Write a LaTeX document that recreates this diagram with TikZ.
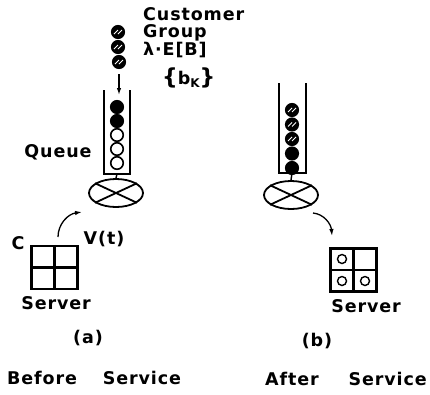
\documentclass[tikz,border=0pt]{standalone}
\usepackage{fontspec}
\setmainfont{DejaVu Sans}[LetterSpace=5]
\usetikzlibrary{shapes.geometric,arrows.meta}

\tikzset{
	lbl/.style={font=\fontsize{17.5}{19}\selectfont\bfseries, inner sep=0pt},
	tube/.style={line width=1.6pt},
	ball/.style={circle, draw, line width=1.6pt, minimum size=12.5pt, inner sep=0pt},
	full/.style={ball, fill=black},
	hatch/.style={full, path picture={
		\draw[white, line width=0.9pt]
		([shift={(-4,2)}]path picture bounding box.center) -- ([shift={(0,-2)}]path picture bounding box.center)
		([shift={(0,2)}]path picture bounding box.center) -- ([shift={(4,-2)}]path picture bounding box.center);}},
	dot/.style={circle, draw, line width=1.4pt, minimum size=9pt, inner sep=0pt},
	box/.style={draw, line width=2.2pt, minimum width=46pt, minimum height=43pt, inner sep=0pt},
	mix/.style={ellipse, draw, line width=1.8pt, minimum width=54pt, minimum height=28pt, inner sep=0pt},
	flow/.style={line width=1.3pt, -{Latex[length=7pt,width=4.5pt]}}
}

\begin{document}
\begin{tikzpicture}[x=1pt,y=-1pt]
	\useasboundingbox (0,0) rectangle (430,394);
	% (a) before service
	\node[hatch] (cA1) at (118,32) {};
	\node[hatch] (cA2) at (118,47) {};
	\node[hatch] (cA3) at (119,62) {};
	\coordinate (inA) at (119,95);
	\draw[flow, shorten <=5pt] (cA3.south) -- (inA);
	\draw[tube] (104,90) -- (104,174) -- (130,174) -- (130,90);
	\node[full] (qA1) at (117,107) {};
	\node[full] (qA2) at (117,121) {};
	\foreach \y [count=\i from 3] in {135,149,163}
		\node[ball] (qA\i) at (117,\y) {};
	\node[mix] (mixA) at (116,193) {};
	\draw[line width=1.4pt] (117,174) -- (mixA.north);
	\draw[line width=1.8pt] (mixA.25) -- (mixA.205) (mixA.155) -- (mixA.335);
	\node[box] (servA) at (54.5,267.5) {};
	\draw[line width=2.2pt] (servA.north) -- (servA.south) (servA.west) -- (servA.east);
	\coordinate (vA1) at (58,237);
	\coordinate (vA2) at (82,212);
	\draw[flow] (vA1) .. controls (58,224) and (68,214) .. (vA2);
	\node[lbl] (queue) at (58,152) {Queue};
	\node[lbl] (capC) at (18,243) {C};
	\node[lbl] (volV) at (104,239) {V(t)};
	\node[lbl] (srvA) at (56,303) {Server};
	\node[lbl] (tagA) at (88,338) {(a)};
	\node[lbl, anchor=west] (capA) at (7,378) {Before\hspace{26pt}Service};
	% customer group text
	\node[lbl, anchor=base west] (grp1) at (143,20) {Customer};
	\node[lbl, anchor=base west] (grp2) at (143,37) {Group};
	\node[lbl, anchor=base west] (grp3) at (143,55) {λ·E[B]};
	\node[lbl, anchor=base west] (grp4) at (162,84) {{\fontsize{22}{22}\selectfont\{}b{\fontsize{12}{12}\selectfont\raisebox{-3pt}{K}}{\fontsize{22}{22}\selectfont\}}};
	% (b) after service
	\draw[tube] (279,83) -- (279,173) -- (306,173) -- (306,83);
	\foreach \y [count=\i] in {110,124.5,139}
		\node[hatch] (qB\i) at (292,\y) {};
	\node[full] (qB4) at (292,153.5) {};
	\node[full] (qB5) at (292,168) {};
	\node[mix] (mixB) at (291,195) {};
	\draw[line width=1.4pt] (292,173) -- (mixB.north);
	\draw[line width=1.8pt] (mixB.25) -- (mixB.205) (mixB.155) -- (mixB.335);
	\node[box] (servB) at (353.5,270) {};
	\draw[line width=2.2pt] (servB.north) -- (servB.south) (servB.west) -- (servB.east);
	\node[dot] (oB1) at (342,259) {};
	\node[dot] (oB2) at (342,281) {};
	\node[dot] (oB3) at (365,281) {};
	\coordinate (vB1) at (313,213);
	\coordinate (vB2) at (332,236);
	\draw[flow] (vB1) .. controls (324,214) and (331,224) .. (vB2);
	\node[lbl] (srvB) at (366,306) {Server};
	\node[lbl] (tagB) at (317,341) {(b)};
	\node[lbl, anchor=west] (capB) at (265,379) {After\hspace{30pt}Service};
\end{tikzpicture}
\end{document}
